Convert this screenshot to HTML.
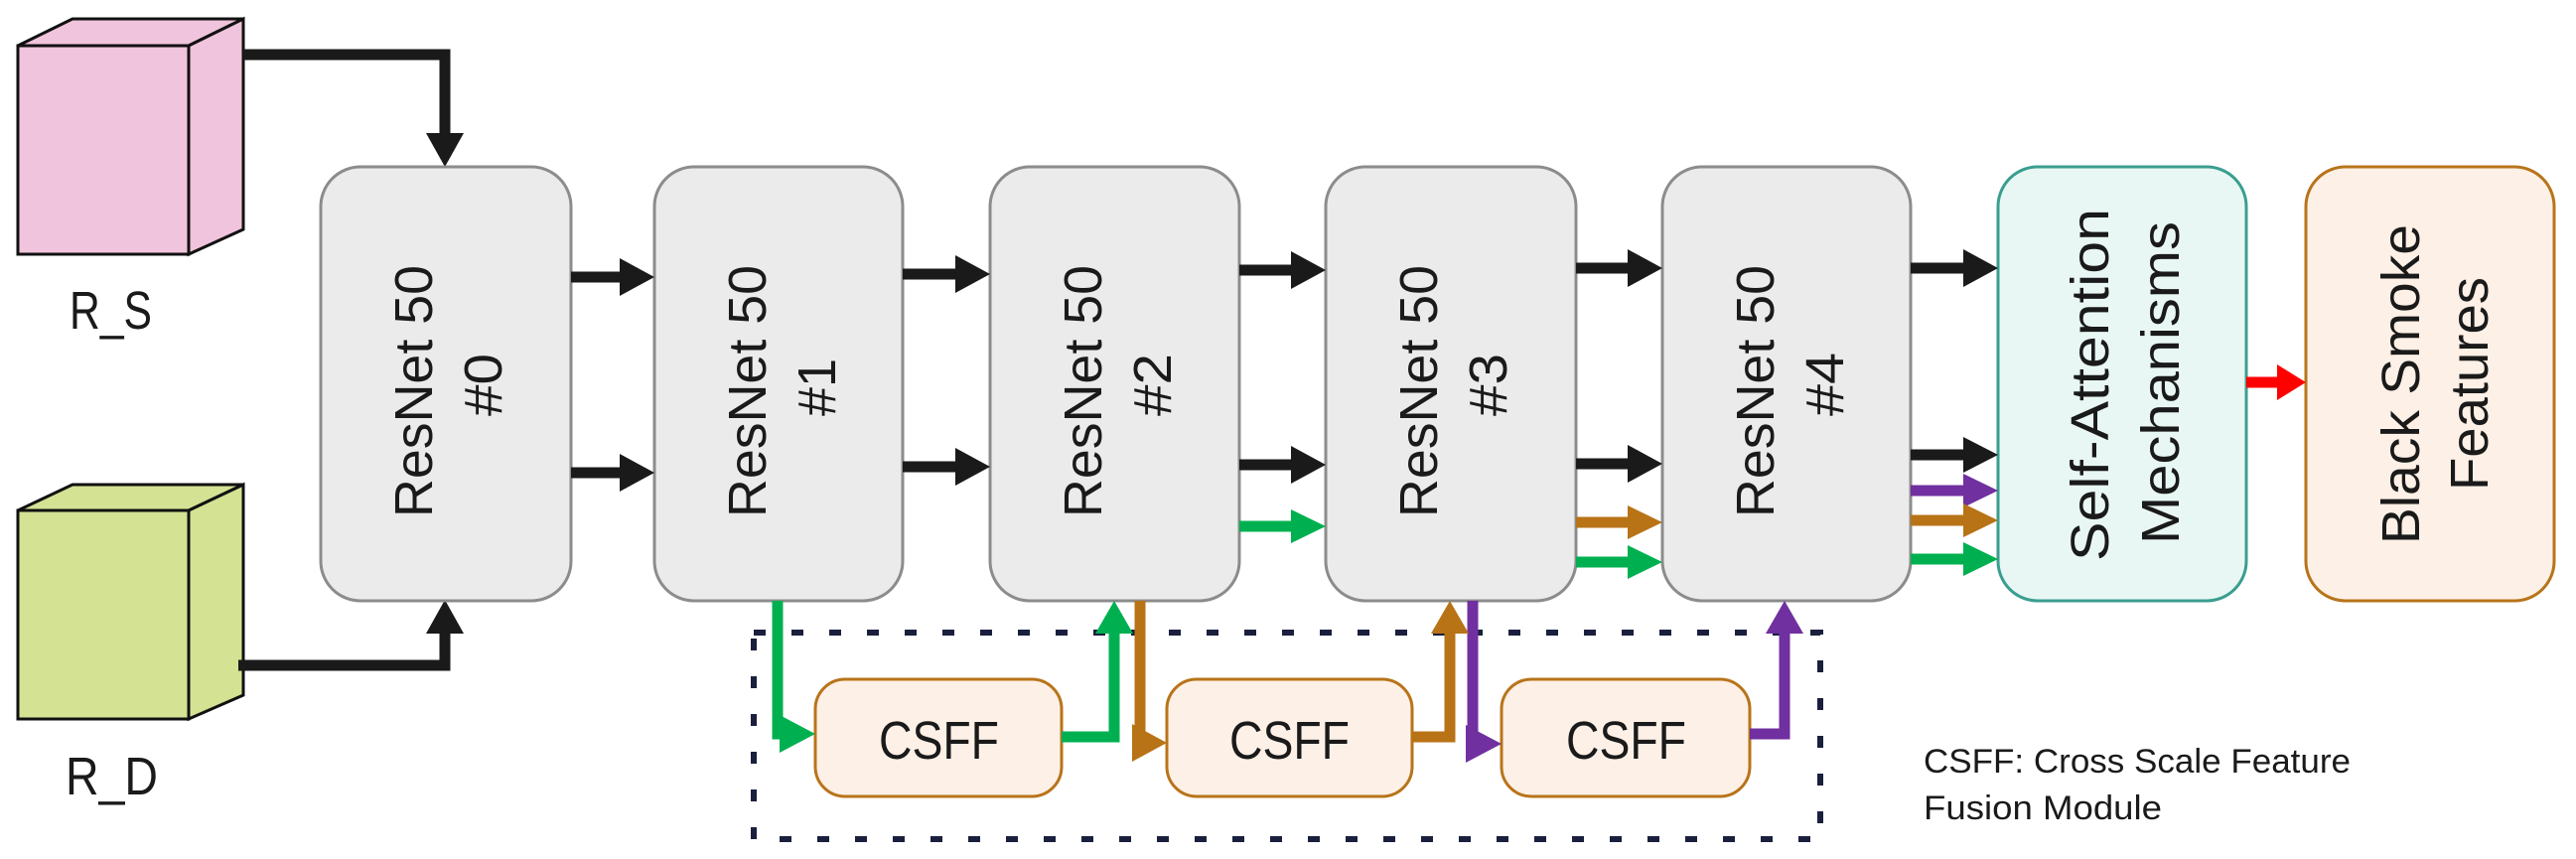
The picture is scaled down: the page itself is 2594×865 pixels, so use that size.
<!DOCTYPE html>
<html><head><meta charset="utf-8"><style>html,body{margin:0;padding:0;background:#fff;overflow:hidden}svg{display:block}text{font-family:"Liberation Sans",sans-serif;fill:#1a1a1a}</style></head><body>
<svg width="2594" height="865" viewBox="0 0 2594 865" xmlns="http://www.w3.org/2000/svg">
<!-- cubes -->
<polygon points="18,46 73,19 245,19 190,46" fill="#f0c4dc" stroke="#111" stroke-width="3"/>
<polygon points="190,46 245,19 245,231 190,256" fill="#f0c4dc" stroke="#111" stroke-width="3"/>
<rect x="18" y="46" width="172" height="210" fill="#f0c4dc" stroke="#111" stroke-width="3"/>
<polygon points="18,514 73,488 245,488 190,514" fill="#d3e293" stroke="#111" stroke-width="3"/>
<polygon points="190,514 245,488 245,700 190,724" fill="#d3e293" stroke="#111" stroke-width="3"/>
<rect x="18" y="514" width="172" height="210" fill="#d3e293" stroke="#111" stroke-width="3"/>
<text x="70" y="331" font-size="54" textLength="83" lengthAdjust="spacingAndGlyphs">R_S</text>
<text x="66" y="800" font-size="54" textLength="93" lengthAdjust="spacingAndGlyphs">R_D</text>
<!-- input arrows -->
<polyline points="245,55 448,55 448,140" fill="none" stroke="#1a1a1a" stroke-width="11"/>
<polygon points="429,134 467,134 448,168" fill="#1a1a1a"/>
<polyline points="240,670 448,670 448,630" fill="none" stroke="#1a1a1a" stroke-width="11"/>
<polygon points="429,638 467,638 448,604" fill="#1a1a1a"/>
<!-- boxes -->
<g fill="#ebebeb" stroke="#8c8c8c" stroke-width="3">
<rect x="323" y="168" width="252" height="437" rx="40"/>
<rect x="659" y="168" width="250" height="437" rx="40"/>
<rect x="997" y="168" width="251" height="437" rx="40"/>
<rect x="1335" y="168" width="252" height="437" rx="40"/>
<rect x="1674" y="168" width="250" height="437" rx="40"/>
</g>
<rect x="2012" y="168" width="250" height="437" rx="40" fill="#e8f7f3" stroke="#3a9e8f" stroke-width="3"/>
<rect x="2322" y="168" width="250" height="437" rx="40" fill="#fdf0e6" stroke="#b8741a" stroke-width="3"/>
<!-- labels -->
<g font-size="54">
<text transform="translate(435,521) rotate(-90)" textLength="254" lengthAdjust="spacingAndGlyphs">ResNet 50</text>
<text transform="translate(505,419) rotate(-90)" textLength="63" lengthAdjust="spacingAndGlyphs">#0</text>
<text transform="translate(771,521) rotate(-90)" textLength="254" lengthAdjust="spacingAndGlyphs">ResNet 50</text>
<text transform="translate(841,419) rotate(-90)" textLength="58" lengthAdjust="spacingAndGlyphs">#1</text>
<text transform="translate(1109,521) rotate(-90)" textLength="254" lengthAdjust="spacingAndGlyphs">ResNet 50</text>
<text transform="translate(1179,419) rotate(-90)" textLength="63" lengthAdjust="spacingAndGlyphs">#2</text>
<text transform="translate(1447,521) rotate(-90)" textLength="254" lengthAdjust="spacingAndGlyphs">ResNet 50</text>
<text transform="translate(1517,419) rotate(-90)" textLength="63" lengthAdjust="spacingAndGlyphs">#3</text>
<text transform="translate(1786,521) rotate(-90)" textLength="254" lengthAdjust="spacingAndGlyphs">ResNet 50</text>
<text transform="translate(1856,419) rotate(-90)" textLength="64" lengthAdjust="spacingAndGlyphs">#4</text>
<text transform="translate(2123,565) rotate(-90)" textLength="355" lengthAdjust="spacingAndGlyphs">Self-Attention</text>
<text transform="translate(2194,548) rotate(-90)" textLength="325" lengthAdjust="spacingAndGlyphs">Mechanisms</text>
<text transform="translate(2436,548) rotate(-90)" textLength="322" lengthAdjust="spacingAndGlyphs">Black Smoke</text>
<text transform="translate(2505,494) rotate(-90)" textLength="215" lengthAdjust="spacingAndGlyphs">Features</text>
</g>
<!-- horizontal arrows -->
<g stroke-width="11">
<line x1="575" y1="279" x2="625" y2="279" stroke="#1a1a1a"/><polygon points="624,260 659,279 624,298" fill="#1a1a1a"/>
<line x1="575" y1="476" x2="625" y2="476" stroke="#1a1a1a"/><polygon points="624,457 659,476 624,495" fill="#1a1a1a"/>
<line x1="909" y1="276" x2="963" y2="276" stroke="#1a1a1a"/><polygon points="962,257 997,276 962,295" fill="#1a1a1a"/>
<line x1="909" y1="470" x2="963" y2="470" stroke="#1a1a1a"/><polygon points="962,451 997,470 962,489" fill="#1a1a1a"/>
<line x1="1248" y1="272" x2="1301" y2="272" stroke="#1a1a1a"/><polygon points="1300,253 1335,272 1300,291" fill="#1a1a1a"/>
<line x1="1248" y1="468" x2="1301" y2="468" stroke="#1a1a1a"/><polygon points="1300,449 1335,468 1300,487" fill="#1a1a1a"/>
<line x1="1248" y1="530" x2="1301" y2="530" stroke="#00b050"/><polygon points="1300,513 1335,530 1300,547" fill="#00b050"/>
<line x1="1587" y1="270" x2="1640" y2="270" stroke="#1a1a1a"/><polygon points="1639,251 1674,270 1639,289" fill="#1a1a1a"/>
<line x1="1587" y1="467" x2="1640" y2="467" stroke="#1a1a1a"/><polygon points="1639,448 1674,467 1639,486" fill="#1a1a1a"/>
<line x1="1587" y1="526" x2="1640" y2="526" stroke="#b87316"/><polygon points="1639,509 1674,526 1639,543" fill="#b87316"/>
<line x1="1587" y1="566" x2="1640" y2="566" stroke="#00b050"/><polygon points="1639,549 1674,566 1639,583" fill="#00b050"/>
<line x1="1924" y1="270" x2="1978" y2="270" stroke="#1a1a1a"/><polygon points="1977,251 2012,270 1977,289" fill="#1a1a1a"/>
<line x1="1924" y1="458" x2="1978" y2="458" stroke="#1a1a1a"/><polygon points="1977,440 2012,458 1977,476" fill="#1a1a1a"/>
<line x1="1924" y1="494" x2="1978" y2="494" stroke="#7030a0"/><polygon points="1977,477 2012,494 1977,511" fill="#7030a0"/>
<line x1="1924" y1="524" x2="1978" y2="524" stroke="#b87316"/><polygon points="1977,507 2012,524 1977,541" fill="#b87316"/>
<line x1="1924" y1="563" x2="1978" y2="563" stroke="#00b050"/><polygon points="1977,546 2012,563 1977,580" fill="#00b050"/>
<line x1="2262" y1="385" x2="2295" y2="385" stroke="#ff0000"/><polygon points="2293,367 2322,385 2293,403" fill="#ff0000"/>
</g>
<!-- dashed box -->
<rect x="759" y="637" width="1074" height="208" fill="none" stroke="#1a1f3d" stroke-width="6" stroke-dasharray="12,26"/>
<!-- CSFF boxes -->
<g fill="#fdf0e6" stroke="#b8741a" stroke-width="3">
<rect x="821" y="684" width="248" height="118" rx="30"/>
<rect x="1175" y="684" width="247" height="118" rx="30"/>
<rect x="1512" y="684" width="250" height="118" rx="30"/>
</g>
<g font-size="54">
<text x="885" y="764" textLength="121" lengthAdjust="spacingAndGlyphs">CSFF</text>
<text x="1238" y="764" textLength="121" lengthAdjust="spacingAndGlyphs">CSFF</text>
<text x="1577" y="764" textLength="121" lengthAdjust="spacingAndGlyphs">CSFF</text>
</g>
<!-- CSFF connectors -->
<g fill="none" stroke-width="11">
<polyline points="783,605 783,739 795,739" stroke="#00b050"/>
<polyline points="1069,742 1122,742 1122,630" stroke="#00b050"/>
<polyline points="1148,605 1148,748 1150,748" stroke="#b87316"/>
<polyline points="1422,742 1460,742 1460,630" stroke="#b87316"/>
<polyline points="1483,605 1483,749 1487,749" stroke="#7030a0"/>
<polyline points="1762,739 1797,739 1797,630" stroke="#7030a0"/>
</g>
<polygon points="785,720 821,739 785,758" fill="#00b050"/>
<polygon points="1103,638 1141,638 1122,605" fill="#00b050"/>
<polygon points="1140,729 1175,748 1140,767" fill="#b87316"/>
<polygon points="1441,638 1479,638 1460,605" fill="#b87316"/>
<polygon points="1476,730 1512,749 1476,768" fill="#7030a0"/>
<polygon points="1778,638 1816,638 1797,605" fill="#7030a0"/>
<!-- legend -->
<text x="1937" y="778" font-size="34" textLength="430" lengthAdjust="spacingAndGlyphs">CSFF:  Cross Scale Feature</text>
<text x="1937" y="825" font-size="34" textLength="240" lengthAdjust="spacingAndGlyphs">Fusion Module</text>
</svg>
</body></html>
